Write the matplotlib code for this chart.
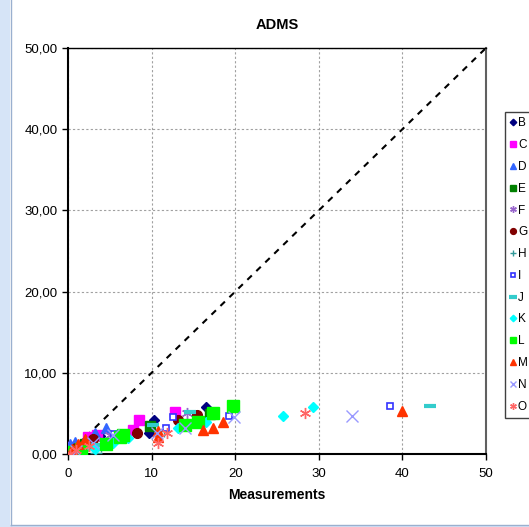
import matplotlib.pyplot as plt
from matplotlib.patches import Rectangle
from matplotlib.ticker import FuncFormatter

plt.rcParams['font.family'] = ['Liberation Sans', 'DejaVu Sans']

# Measured vs modelled values per station
b_x = [0.3, 1.0, 2.5, 3.8, 9.7, 10.3, 16.5]
b_y = [0.2, 0.8, 1.5, 2.2, 2.6, 4.2, 5.8]
c_x = [0.0, 0.5, 2.4, 3.5, 7.8, 8.5, 12.8]
c_y = [0.5, 0.9, 2.1, 2.3, 3.0, 4.2, 5.2]
d_x = [0.2, 0.8, 1.5, 3.2, 4.6]
d_y = [1.2, 1.5, 0.9, 2.6, 3.2]
e_x = [0.3, 1.2, 2.0, 9.8, 17.0]
e_y = [0.1, 0.6, 1.2, 3.4, 4.9]
f_x = [0.5, 1.5, 2.8, 5.0, 14.2]
f_y = [0.3, 0.8, 1.5, 2.4, 5.0]
g_x = [1.0, 3.0, 8.2, 13.2, 15.4]
g_y = [0.8, 1.8, 2.6, 4.2, 4.8]
h_x = [0.8, 2.0, 3.4, 4.0, 11.5]
h_y = [0.3, 0.9, 0.1, 1.0, 2.8]
i_x = [2.2, 5.5, 11.7, 12.5, 19.2, 38.5]
i_y = [1.5, 2.5, 3.2, 4.5, 4.7, 5.9]
j_x = [1.8, 3.5, 10.2, 14.6, 43.3]
j_y = [0.5, 1.1, 3.6, 5.2, 5.9]
k_x = [1.5, 3.2, 5.4, 7.2, 13.2, 16.5, 25.7, 29.3]
k_y = [0.4, 0.6, 1.4, 2.0, 3.2, 4.0, 4.7, 5.8]
l_x = [0.5, 1.5, 4.5, 6.2, 6.6, 14.0, 15.5, 17.3, 19.7]
l_y = [0.2, 0.6, 1.2, 2.1, 2.3, 3.6, 4.0, 5.0, 5.9]
m_x = [0.5, 1.2, 2.0, 10.8, 10.8, 16.2, 17.4, 18.6, 40.0]
m_y = [0.6, 1.2, 1.8, 2.1, 2.8, 2.9, 3.2, 3.9, 5.3]
n_x = [1.0, 3.0, 5.4, 10.6, 14.0, 19.8, 34.0]
n_y = [0.4, 1.4, 2.3, 2.6, 3.2, 4.6, 4.7]
o_x = [0.2, 1.0, 2.5, 10.8, 11.9, 28.3]
o_y = [0.0, 0.5, 1.0, 1.4, 2.6, 5.0]

series = [
    ('B', b_x, b_y, 'D', '#000080', 5.5),
    ('C', c_x, c_y, 's', '#FF00FF', 7),
    ('D', d_x, d_y, '^', '#3366FF', 7),
    ('E', e_x, e_y, 's', '#008000', 7),
    ('F', f_x, f_y, (6, 2, 0), '#9966CC', 8),
    ('G', g_x, g_y, 'o', '#800000', 7),
    ('H', h_x, h_y, '+', '#339999', 8),
    ('I', i_x, i_y, 's', '#3333FF', 4),
    ('J', j_x, j_y, '_', '#33CCCC', 9),
    ('K', k_x, k_y, 'D', '#00FFFF', 5.5),
    ('L', l_x, l_y, 's', '#00FF00', 8),
    ('M', m_x, m_y, '^', '#FF3300', 7),
    ('N', n_x, n_y, 'x', '#9999FF', 8),
    ('O', o_x, o_y, (6, 2, 0), '#FF6666', 8),
]

fig = plt.figure(figsize=(5.29, 5.27), dpi=100)

# light blue frame strip of the Excel chart sheet
fig.patches.append(Rectangle((0, 0), 10 / 529, 1, transform=fig.transFigure,
                             facecolor='#D6E4F7', edgecolor='none', zorder=0))
fig.patches.append(Rectangle((0, 0), 1, 2 / 527, transform=fig.transFigure,
                             facecolor='#D6E4F7', edgecolor='none', zorder=0))
fig.lines.append(plt.Line2D([10.5 / 529, 10.5 / 529], [2 / 527, 1],
                            transform=fig.transFigure, color='#9AB0CF', lw=1))
fig.lines.append(plt.Line2D([10.5 / 529, 1], [2.5 / 527, 2.5 / 527],
                            transform=fig.transFigure, color='#9AB0CF', lw=1))

ax = fig.add_axes([68 / 529, 1 - 454 / 527, 418 / 529, 406 / 527])

ax.plot([0, 50], [0, 50], 'k--', lw=1.5, dashes=(3, 3), zorder=1)

for name, xs, ys, mk, col, ms in series:
    if name == 'I':
        ax.plot(xs, ys, ls='none', marker=mk, ms=ms, mfc='white', mec=col,
                mew=1.2, label=name, zorder=3)
    elif mk in ('+', 'x', '_') or isinstance(mk, tuple):
        ax.plot(xs, ys, ls='none', marker=mk, ms=ms, color=col,
                mew=1.0 if mk != '_' else 3, label=name, zorder=3)
    else:
        ax.plot(xs, ys, ls='none', marker=mk, ms=ms, color=col, mec=col,
                label=name, zorder=3)

ax.set_xlim(0, 50)
ax.set_ylim(0, 50)
ax.set_xticks([0, 10, 20, 30, 40, 50])
ax.set_yticks([0, 10, 20, 30, 40, 50])
ax.yaxis.set_major_formatter(FuncFormatter(lambda v, p: f'{v:.2f}'.replace('.', ',')))
ax.grid(True, color='#A0A0A0', ls=(0, (2, 2)), lw=0.8)
ax.set_axisbelow(True)
ax.tick_params(direction='out', length=4, width=1, labelsize=9.5, colors='black')
ax.tick_params(axis='x', pad=6)

ax.spines['left'].set_linewidth(1.5)
ax.spines['bottom'].set_linewidth(1.5)
ax.spines['top'].set_linewidth(1.0)
ax.spines['right'].set_linewidth(1.5)
ax.spines['right'].set_color('#606060')

ax.set_title('ADMS', fontsize=10.5, fontweight='bold', pad=14)
ax.set_xlabel('Measurements', fontsize=10, fontweight='bold', labelpad=6)
ax.set_ylabel('Model', fontsize=10, fontweight='bold', labelpad=8)

fig.legend(loc='upper left', bbox_to_anchor=(505 / 529, 1 - 112 / 527),
           borderaxespad=0, fontsize=8.5, markerscale=0.6, handlelength=0.45,
           handletextpad=0.2, labelspacing=0.83, borderpad=0.45,
           fancybox=False, edgecolor='#404040', framealpha=1)

plt.savefig('out.png', dpi=100)
